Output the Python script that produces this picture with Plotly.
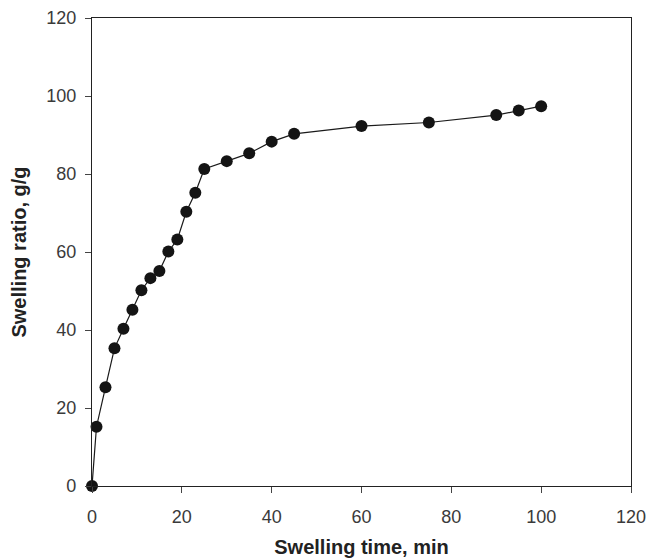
import plotly.graph_objects as go

# Swelling kinetics: time (min) vs swelling ratio (g/g)
time_min = [0, 1, 3, 5, 7, 9, 11, 13, 15, 17, 19, 21, 23, 25, 30, 35, 40, 45, 60, 75, 90, 95, 100]
swelling_ratio = [0, 15.2, 25.3, 35.3, 40.3, 45.2, 50.2, 53.3, 55.1, 60.1, 63.2, 70.3, 75.2, 81.3,
                  83.3, 85.3, 88.3, 90.3, 92.3, 93.2, 95.1, 96.3, 97.4]

x_ticks = [0, 20, 40, 60, 80, 100, 120]
y_ticks = [0, 20, 40, 60, 80, 100, 120]

FONT = "Liberation Sans, Arial, sans-serif"

fig = go.Figure()
fig.add_trace(go.Scatter(
    x=time_min, y=swelling_ratio,
    mode="lines+markers",
    line=dict(color="#1a1a1a", width=1.2),
    marker=dict(color="#141414", size=12),
    cliponaxis=False,
    showlegend=False,
))

axis_common = dict(
    showgrid=False, zeroline=False,
    showline=True, linecolor="#222", linewidth=1.3,
    mirror=True, automargin=False,
    ticks="outside", ticklen=6, tickcolor="#444", tickwidth=1,
    tickfont=dict(family=FONT, size=18, color="#3a3a3a"),
)

fig.update_xaxes(
    range=[0, 120], tickvals=x_ticks, ticktext=[str(v) for v in x_ticks],
    ticklabelstandoff=8,
    title=dict(text="<b>Swelling time, min</b>",
               font=dict(family=FONT, size=20, color="#222"),
               standoff=16),
    **axis_common,
)
fig.update_yaxes(
    range=[0, 120], tickvals=y_ticks, ticktext=[str(v) for v in y_ticks],
    ticklabelstandoff=5,
    title=dict(text="<b>Swelling ratio, g/g</b>",
               font=dict(family=FONT, size=20, color="#222"),
               standoff=14),
    **axis_common,
)

fig.update_layout(
    width=647, height=558,
    margin=dict(l=92, r=16, t=18, b=72, pad=0),
    paper_bgcolor="white", plot_bgcolor="white",
)

fig.write_html("out.html")
